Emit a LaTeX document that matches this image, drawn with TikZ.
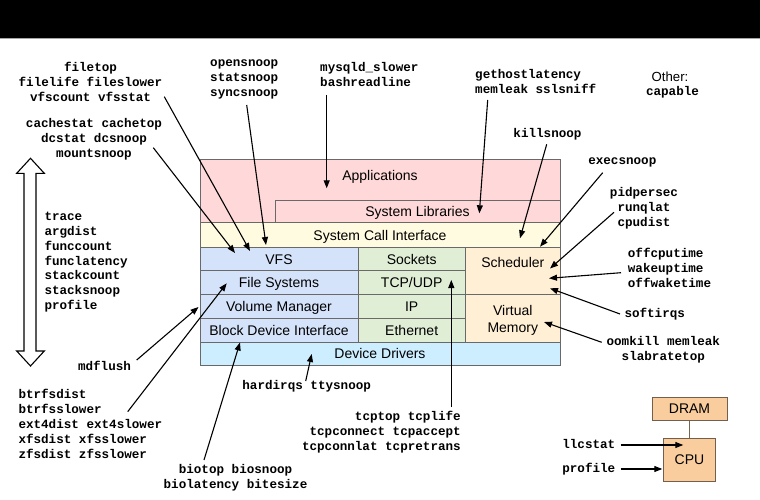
\documentclass[tikz,border=0pt]{standalone}
\usepackage{fontspec}
\setmainfont{Liberation Sans}
\setsansfont{Liberation Sans}
\newfontfamily\monofam{Liberation Mono}
\usetikzlibrary{arrows.meta}
\definecolor{appPink}{RGB}{255,217,217}
\definecolor{sysYellow}{RGB}{255,251,224}
\definecolor{fsBlue}{RGB}{213,227,250}
\definecolor{netGreen}{RGB}{225,238,214}
\definecolor{schedPeach}{RGB}{255,240,213}
\definecolor{drvCyan}{RGB}{204,238,255}
\definecolor{layerBorder}{RGB}{105,105,105}
\definecolor{cpuFill}{RGB}{250,205,158}
\definecolor{cpuBorder}{RGB}{115,95,75}
\begin{document}
\begin{tikzpicture}[x=1pt,y=-1pt,
  mono/.style={font=\monofam\bfseries\fontsize{12.6}{15}\selectfont, inner sep=0pt},
  lbl/.style={font=\fontsize{14}{16.5}\selectfont, inner sep=0pt, text height=10pt, text depth=0pt},
  lblm/.style={font=\fontsize{14}{17.3}\selectfont, inner sep=0pt, align=center},
  layer/.style={draw=layerBorder, line width=1pt},
  hw/.style={draw=cpuBorder, line width=1pt, fill=cpuFill, inner sep=0pt, font=\fontsize{14}{16}\selectfont},
  arr/.style={draw=black, line width=1.1pt, -{Triangle[length=8pt,width=6pt]}},
]
\useasboundingbox (0,0) rectangle (760,500);
\fill[white] (0,0) rectangle (760,500);
\fill[black] (0,0) rectangle (760,38.3);
\draw[gray!70, line width=0.8pt] (0,38.7) -- (760,38.7);

% ---- software stack ----
\draw[layer, fill=appPink] (200,159.3) rectangle (560.7,222.7);
\draw[layer, fill=appPink] (275,200) rectangle (560.7,222.7);
\draw[layer, fill=sysYellow] (200,222.7) rectangle (560.7,247.3);
\draw[layer, fill=fsBlue] (200,247.3) rectangle (358.3,270.7);
\draw[layer, fill=fsBlue] (200,270.7) rectangle (358.3,294.3);
\draw[layer, fill=fsBlue] (200,294.3) rectangle (358.3,318.3);
\draw[layer, fill=fsBlue] (200,318.3) rectangle (358.3,342);
\draw[layer, fill=netGreen] (358.3,247.3) rectangle (465,270.7);
\draw[layer, fill=netGreen] (358.3,270.7) rectangle (465,294.3);
\draw[layer, fill=netGreen] (358.3,294.3) rectangle (465,318.3);
\draw[layer, fill=netGreen] (358.3,318.3) rectangle (465,342);
\draw[layer, fill=schedPeach] (465,247.3) rectangle (560.7,294.3);
\draw[layer, fill=schedPeach] (465,294.3) rectangle (560.7,342);
\draw[layer, fill=drvCyan] (200,342) rectangle (560.7,365);

\node[lbl] (apps) at (380,175) {Applications};
\node[lbl] (syslib) at (417.5,211.5) {System Libraries};
\node[lbl] (syscall) at (380,235.3) {System Call Interface};
\node[lbl] (vfs) at (279,259) {VFS};
\node[lbl] (fs) at (279,282.5) {File Systems};
\node[lbl] (volmgr) at (279,306.3) {Volume Manager};
\node[lbl] (blockdev) at (279,330.2) {Block Device Interface};
\node[lbl] (sockets) at (411.7,259) {Sockets};
\node[lbl] (tcpudp) at (411.7,282.5) {TCP/UDP};
\node[lbl] (ip) at (411.7,306.3) {IP};
\node[lbl] (ethernet) at (411.7,330.2) {Ethernet};
\node[lbl] (sched) at (512.8,262.7) {Scheduler};
\node[lblm] (vm) at (512.8,320.2) {Virtual\\Memory};
\node[lbl] (drivers) at (380,353.5) {Device Drivers};

% ---- hardware ----
\node[hw, minimum width=75pt, minimum height=23.4pt] (dram) at (689.5,409) {DRAM};
\node[hw, minimum width=52.7pt, minimum height=42.7pt] (cpu) at (689.5,459.7) {CPU};
\draw[cpuBorder!80!gray, line width=1pt] (dram.south) -- (cpu.north);

% ---- double arrow ----
\draw[black, line width=1.1pt, fill=white]
  (30.5,158.3) -- (44.3,173.3) -- (36,173.3) -- (36,351) -- (44.3,351) -- (30.5,366)
  -- (16.7,351) -- (24,351) -- (24,173.3) -- (16.7,173.3) -- cycle;

% ---- tool labels ----
\node[mono, align=center] (filetop) at (90.5,82) {filetop\\filelife fileslower\\vfscount vfsstat};
\node[mono, align=center] (cachestat) at (94,139) {cachestat cachetop\\dcstat dcsnoop\\mountsnoop};
\node[mono, align=left, anchor=west] (opensnoop) at (210,79) {opensnoop\\statsnoop\\syncsnoop};
\node[mono, align=left, anchor=west] (mysqld) at (320,74.5) {mysqld\_slower\\bashreadline};
\node[mono, align=left, anchor=west] (gethost) at (475,81) {gethostlatency\\memleak sslsniff};
\node[font=\fontsize{13.2}{15}\selectfont, inner sep=0pt] (other) at (670,76.7) {Other:};
\node[mono] (capable) at (672.5,92.7) {capable};
\node[mono] (killsnoop) at (547.5,134.3) {killsnoop};
\node[mono] (execsnoop) at (622.3,162.3) {execsnoop};
\node[mono, align=center] (pidpersec) at (644,207.8) {pidpersec\\runqlat\\cpudist};
\node[mono, align=left, anchor=west] (offcpu) at (627.7,267.7) {offcputime\\wakeuptime\\offwaketime};
\node[mono, anchor=west] (softirqs) at (624.3,314) {softirqs};
\node[mono, align=center] (oomkill) at (663.3,349.5) {oomkill memleak\\slabratetop};
\node[mono, align=left, anchor=west, font=\monofam\bfseries\fontsize{12.6}{14.8}\selectfont] (trace) at (44.3,262.2)
  {trace\\argdist\\funccount\\funclatency\\stackcount\\stacksnoop\\profile};
\node[mono] (mdflush) at (104.5,366) {mdflush};
\node[mono, align=left, anchor=west] (btrfs) at (18.3,424)
  {btrfsdist\\btrfsslower\\ext4dist ext4slower\\xfsdist xfsslower\\zfsdist zfsslower};
\node[mono] (hardirqs) at (306.7,386.7) {hardirqs ttysnoop};
\node[mono, align=center] (biotop) at (235.5,477.9) {biotop biosnoop\\biolatency bitesize};
\node[mono, align=right, anchor=east] (tcptop) at (461,432.3)
  {tcptop tcplife\\tcpconnect tcpaccept\\tcpconnlat tcpretrans};
\node[mono] (llcstat) at (588.8,444) {llcstat};
\node[mono] (profilehw) at (588.8,469) {profile};

% ---- connector end points ----
\coordinate (s-filetop) at (164.3,96.7);   \coordinate (e-filetop) at (250,251);
\coordinate (s-cache) at (153.3,147.7);    \coordinate (e-cache) at (235,253);
\coordinate (s-open) at (246.7,105);       \coordinate (e-open) at (266,245);
\coordinate (s-mysql) at (326.7,95);       \coordinate (e-mysql) at (326.7,188.3);
\coordinate (s-gethost) at (487.7,100);    \coordinate (e-gethost) at (479.3,213.3);
\coordinate (s-kill) at (546.7,144.3);     \coordinate (e-kill) at (520,238.3);
\coordinate (s-exec) at (602.7,172.7);     \coordinate (e-exec) at (540,246.7);
\coordinate (s-pid) at (614,212.3);        \coordinate (e-pid) at (550,268.5);
\coordinate (s-offcpu) at (621,272.7);     \coordinate (e-offcpu) at (549,278.3);
\coordinate (s-softirq) at (620,314);      \coordinate (e-softirq) at (550,288.3);
\coordinate (s-oom) at (601.7,342.3);      \coordinate (e-oom) at (544,322);
\coordinate (s-mdflush) at (136.7,360);    \coordinate (e-mdflush) at (198.5,307);
\coordinate (s-btrfs) at (127.7,411.7);    \coordinate (e-btrfs) at (226.7,283.3);
\coordinate (s-bio) at (204,460);          \coordinate (e-bio) at (240,342.5);
\coordinate (s-hardirq) at (305.7,381);    \coordinate (e-hardirq) at (311.7,354);
\coordinate (s-tcp) at (451.3,407);        \coordinate (e-tcp) at (451.3,280);
\coordinate (s-llc) at (620.7,445);        \coordinate (e-llc) at (683.3,445);
\coordinate (s-prof) at (620.7,469);       \coordinate (e-prof) at (662.3,469);

\foreach \n in {filetop,cache,open,mysql,gethost,kill,exec,pid,offcpu,softirq,oom,mdflush,btrfs,bio,hardirq,tcp,llc,prof}
  \draw[arr] (s-\n) -- (e-\n);
\end{tikzpicture}
\end{document}
